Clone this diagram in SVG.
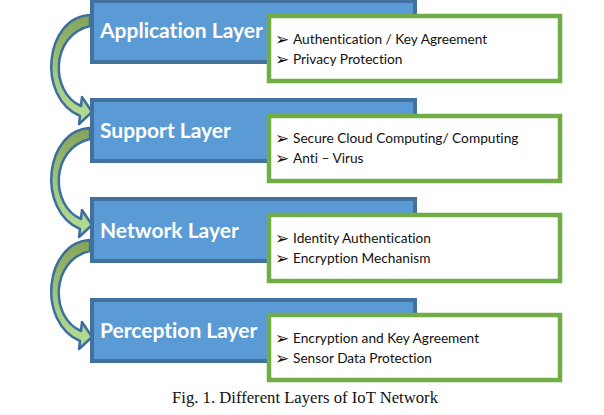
<svg xmlns="http://www.w3.org/2000/svg" width="604" height="415" viewBox="0 0 604 415">
<defs>
<linearGradient id="ag" x1="0" y1="0" x2="0" y2="1">
<stop offset="0" stop-color="#84A257"/>
<stop offset="0.5" stop-color="#A0C77C"/>
<stop offset="1" stop-color="#B9DE97"/>
</linearGradient>
<path id="arr" d="M 90 0 C 45 2, 36 82, 80 101 L 79 109 L 92 97 L 82 82 L 81 91 C 50 78, 50 20, 90 11 Z"/>
</defs>
<style>
.arrow{fill:url(#ag);stroke:#3E6E9E;stroke-width:2.5;stroke-linejoin:round}
.layer{fill:#5B9BD5;stroke:#41719C;stroke-width:4}
.box{fill:#FFFFFF;stroke:#70AD47;stroke-width:4.5}
.lt{font-family:Lato,"Open Sans",sans-serif;font-weight:bold;font-size:21px;fill:#FFFFFF;font-variant-ligatures:none}
.it{font-family:Lato,"Open Sans",sans-serif;font-size:13.7px;fill:#111111;font-variant-ligatures:none}
.bu{font-family:"DejaVu Sans",sans-serif;font-size:17px;fill:#111111}
.cap{font-family:"Liberation Serif",serif;font-size:16.8px;fill:#111111}
</style>
<rect width="604" height="415" fill="#FFFFFF"/>
<g id="connectors">
<use href="#arr" class="arrow" transform="translate(0,15)"/>
<use href="#arr" class="arrow" transform="translate(0,128)"/>
<use href="#arr" class="arrow" transform="translate(0,240)"/>
</g>
<g id="application">
<rect class="layer" x="92" y="1" width="323" height="61"/>
<text class="lt" x="100" y="38">Application Layer</text>
<rect class="box" x="269" y="16" width="291" height="65"/>
<text class="bu" x="275" y="45">➢</text>
<text class="it" x="293" y="44">Authentication / Key Agreement</text>
<text class="bu" x="275" y="65">➢</text>
<text class="it" x="293" y="64">Privacy Protection</text>
</g>
<g id="support">
<rect class="layer" x="92" y="100" width="323" height="61"/>
<text class="lt" x="100" y="138">Support Layer</text>
<rect class="box" x="269" y="116" width="291" height="65"/>
<text class="bu" x="275" y="144">➢</text>
<text class="it" x="293" y="143">Secure Cloud Computing/ Computing</text>
<text class="bu" x="275" y="164">➢</text>
<text class="it" x="293" y="163">Anti – Virus</text>
</g>
<g id="network">
<rect class="layer" x="92" y="199" width="323" height="62"/>
<text class="lt" x="100" y="238">Network Layer</text>
<rect class="box" x="269" y="215" width="291" height="66"/>
<text class="bu" x="275" y="244">➢</text>
<text class="it" x="293" y="243">Identity Authentication</text>
<text class="bu" x="275" y="264">➢</text>
<text class="it" x="293" y="263">Encryption Mechanism</text>
</g>
<g id="perception">
<rect class="layer" x="92" y="300" width="323" height="61"/>
<text class="lt" x="100" y="338">Perception Layer</text>
<rect class="box" x="269" y="315" width="291" height="65"/>
<text class="bu" x="275" y="344">➢</text>
<text class="it" x="293" y="343">Encryption and Key Agreement</text>
<text class="bu" x="275" y="364">➢</text>
<text class="it" x="293" y="363">Sensor Data Protection</text>
</g>
<text class="cap" x="172" y="403" textLength="266" lengthAdjust="spacingAndGlyphs">Fig. 1. Different Layers of IoT Network</text>
</svg>
